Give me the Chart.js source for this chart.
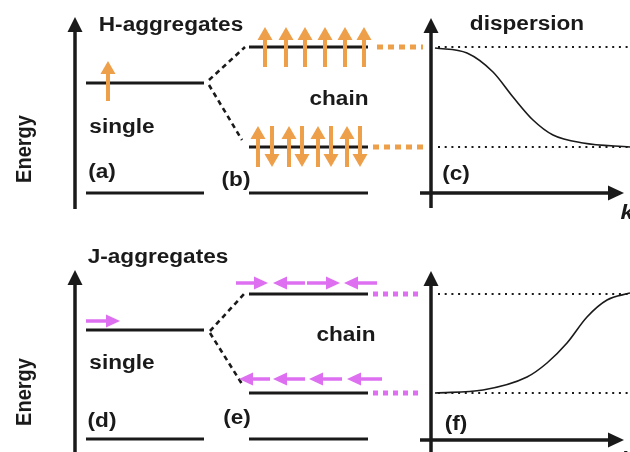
<!DOCTYPE html>
<html>
<head>
<meta charset="utf-8">
<script src="https://cdn.jsdelivr.net/npm/chart.js@4"></script>
<style>
  body { margin: 0; background: white; }
  canvas { display: block; }
</style>
</head>
<body>
<canvas id="diagram" width="630" height="452"></canvas>
<script>
// diagram units: x from the left, y from the top (0..630, 0..452)
const singleSpan = [86, 204];
const chainSpan = [249, 368];
const singleLevels = [83, 193, 330, 439];          // H single, H ground, J single, J ground
const chainLevels = [47, 147, 193, 294, 393, 439]; // H top, H bottom, H ground, J top, J bottom, J ground

// dispersion curves E(k)
const kH = [435, 467, 493, 513, 533, 553, 583, 630];
const eH = [48, 53, 72, 97, 120, 135, 143, 147];
const kJ = [435, 483, 527, 547, 567, 587, 607, 630];
const eJ = [393, 390, 377, 363, 343, 317, 300, 293];

// dipole arrows
const hSingleX = [108];
const hTopX = [265, 286, 305, 325, 345, 364];
const hPairUpX = [258, 289, 318, 347];
const hPairDownX = [272, 302, 331, 360];
const jTopTail = [236, 305, 307, 377];
const jTopTip = [268, 273, 340, 344];
const jBottomTail = [270, 305, 342, 382];
const jBottomTip = [239, 273, 309, 347];

const orange = '#ee9f4a';
const magenta = '#dd6ff0';
const ink = '#1a1a1a';

function seg(x1, y1, x2, y2) {
    return [{ x: x1, y: y1 }, { x: x2, y: y2 }];
}

let datasets = [];
function addLine(points, opts) {
    datasets.push(Object.assign({
        data: points,
        showLine: true,
        pointRadius: 0,
        borderColor: ink,
        borderWidth: 3,
        fill: false
    }, opts));
}

// energy levels
for (let i = 0; i < singleLevels.length; i++) {
    addLine(seg(singleSpan[0], singleLevels[i], singleSpan[1], singleLevels[i]));
}
for (let i = 0; i < chainLevels.length; i++) {
    addLine(seg(chainSpan[0], chainLevels[i], chainSpan[1], chainLevels[i]));
}

// splitting connectors
const dashed = { borderWidth: 2.6, borderDash: [5, 4] };
addLine(seg(209, 80, 245, 47), dashed);
addLine(seg(209, 85, 242, 140), dashed);
addLine(seg(210, 331, 245, 293), dashed);
addLine(seg(210, 333, 242, 384), dashed);

// coloured band-edge connectors
addLine(seg(377, chainLevels[0], 423, chainLevels[0]), { borderColor: orange, borderWidth: 5, borderDash: [6, 5] });
addLine(seg(373, chainLevels[1], 423, chainLevels[1]), { borderColor: orange, borderWidth: 5, borderDash: [6, 5] });
addLine(seg(373, chainLevels[3], 423, chainLevels[3]), { borderColor: magenta, borderWidth: 5, borderDash: [5, 5] });
addLine(seg(373, chainLevels[4], 423, chainLevels[4]), { borderColor: magenta, borderWidth: 5, borderDash: [5, 5] });

// dotted band limits in dispersion panels
const dotted = { borderWidth: 1.8, borderDash: [2, 4.7] };
addLine(seg(438, chainLevels[0], 630, chainLevels[0]), dotted);
addLine(seg(438, chainLevels[1], 630, chainLevels[1]), dotted);
addLine(seg(438, chainLevels[3], 630, chainLevels[3]), dotted);
addLine(seg(438, chainLevels[4], 630, chainLevels[4]), dotted);

// dispersion curves
addLine(kH.map((k, i) => ({ x: k, y: eH[i] })), { borderWidth: 1.6, cubicInterpolationMode: 'monotone' });
addLine(kJ.map((k, i) => ({ x: k, y: eJ[i] })), { borderWidth: 1.6, cubicInterpolationMode: 'monotone' });

// arrows: [x1, y1, x2, y2, colour, shaft, head length, head half width]
let arrows = [];
// energy / k axes
arrows.push([75, 209, 75, 17, ink, 3.5, 15, 7.5]);
arrows.push([75, 460, 75, 270, ink, 3.5, 15, 7.5]);
arrows.push([431, 208, 431, 18, ink, 3.5, 15, 7.5]);
arrows.push([420, 193, 624, 193, ink, 3.5, 16, 7.5]);
arrows.push([431, 460, 431, 271, ink, 3.5, 15, 7.5]);
arrows.push([420, 440, 624, 440, ink, 3.5, 16, 7.5]);
// H-aggregate dipoles
hSingleX.forEach(x => arrows.push([x, 101, x, 61, orange, 4, 13, 7.5]));
hTopX.forEach(x => arrows.push([x, 67, x, 27, orange, 4, 13, 7.5]));
hPairUpX.forEach(x => arrows.push([x, 167, x, 126, orange, 4, 13, 7.5]));
hPairDownX.forEach(x => arrows.push([x, 126, x, 167, orange, 4, 13, 7.5]));
// J-aggregate dipoles
arrows.push([86, 321, 120, 321, magenta, 3.5, 14, 6.5]);
jTopTail.forEach((t, i) => arrows.push([t, 283, jTopTip[i], 283, magenta, 3.5, 14, 6.5]));
jBottomTail.forEach((t, i) => arrows.push([t, 379, jBottomTip[i], 379, magenta, 3.5, 14, 6.5]));

// labels: [text, centre x, baseline y, font]
const bold = 'bold 20px "Liberation Sans", Arial, sans-serif';
const italic = 'italic bold 21px "Liberation Sans", Arial, sans-serif';
const labels = [
    ['H-aggregates', 171, 31, bold],
    ['single', 122, 133, bold],
    ['(a)', 102, 178, bold],
    ['(b)', 236, 186, bold],
    ['chain', 339, 105, bold],
    ['dispersion', 527, 30, bold],
    ['(c)', 456, 180, bold],
    ['k', 627, 219, italic],
    ['J-aggregates', 158, 263, bold],
    ['single', 122, 369, bold],
    ['(d)', 102, 427, bold],
    ['(e)', 237, 424, bold],
    ['chain', 346, 341, bold],
    ['(f)', 456, 430, bold],
    ['k', 627, 466, italic]
];
const energyLabels = [[31, 149], [31, 392]];
const stretch = 1.13;

const diagramPlugin = {
    id: 'diagram',
    afterDatasetsDraw(chart) {
        const ctx = chart.ctx;
        const sx = chart.scales.x, sy = chart.scales.y;
        ctx.save();
        arrows.forEach(a => {
            const x1 = sx.getPixelForValue(a[0]), y1 = sy.getPixelForValue(a[1]);
            const x2 = sx.getPixelForValue(a[2]), y2 = sy.getPixelForValue(a[3]);
            const ang = Math.atan2(y2 - y1, x2 - x1);
            const len = Math.hypot(x2 - x1, y2 - y1);
            ctx.save();
            ctx.translate(x1, y1);
            ctx.rotate(ang);
            ctx.strokeStyle = a[4];
            ctx.fillStyle = a[4];
            ctx.lineWidth = a[5];
            ctx.beginPath();
            ctx.moveTo(0, 0);
            ctx.lineTo(len - a[6] + 1, 0);
            ctx.stroke();
            ctx.beginPath();
            ctx.moveTo(len, 0);
            ctx.lineTo(len - a[6], -a[7]);
            ctx.lineTo(len - a[6], a[7]);
            ctx.closePath();
            ctx.fill();
            ctx.restore();
        });

        ctx.fillStyle = ink;
        ctx.textBaseline = 'alphabetic';
        ctx.textAlign = 'center';
        labels.forEach(l => {
            ctx.save();
            ctx.font = l[3];
            ctx.translate(sx.getPixelForValue(l[1]), sy.getPixelForValue(l[2]));
            ctx.scale(stretch, 1);
            ctx.fillText(l[0], 0, 0);
            ctx.restore();
        });
        ctx.font = bold;
        energyLabels.forEach(e => {
            ctx.save();
            ctx.translate(sx.getPixelForValue(e[0]), sy.getPixelForValue(e[1]));
            ctx.scale(stretch, 1);
            ctx.rotate(-Math.PI / 2);
            ctx.fillText('Energy', 0, 0);
            ctx.restore();
        });
        ctx.restore();
    }
};

new Chart(document.getElementById('diagram').getContext('2d'), {
    type: 'scatter',
    data: { datasets: datasets },
    options: {
        responsive: false,
        animation: false,
        layout: { padding: 0 },
        plugins: { legend: { display: false }, tooltip: { enabled: false } },
        scales: {
            x: { type: 'linear', min: 0, max: 630, display: false },
            y: { type: 'linear', min: 0, max: 452, reverse: true, display: false }
        }
    },
    plugins: [diagramPlugin]
});
</script>
</body>
</html>
